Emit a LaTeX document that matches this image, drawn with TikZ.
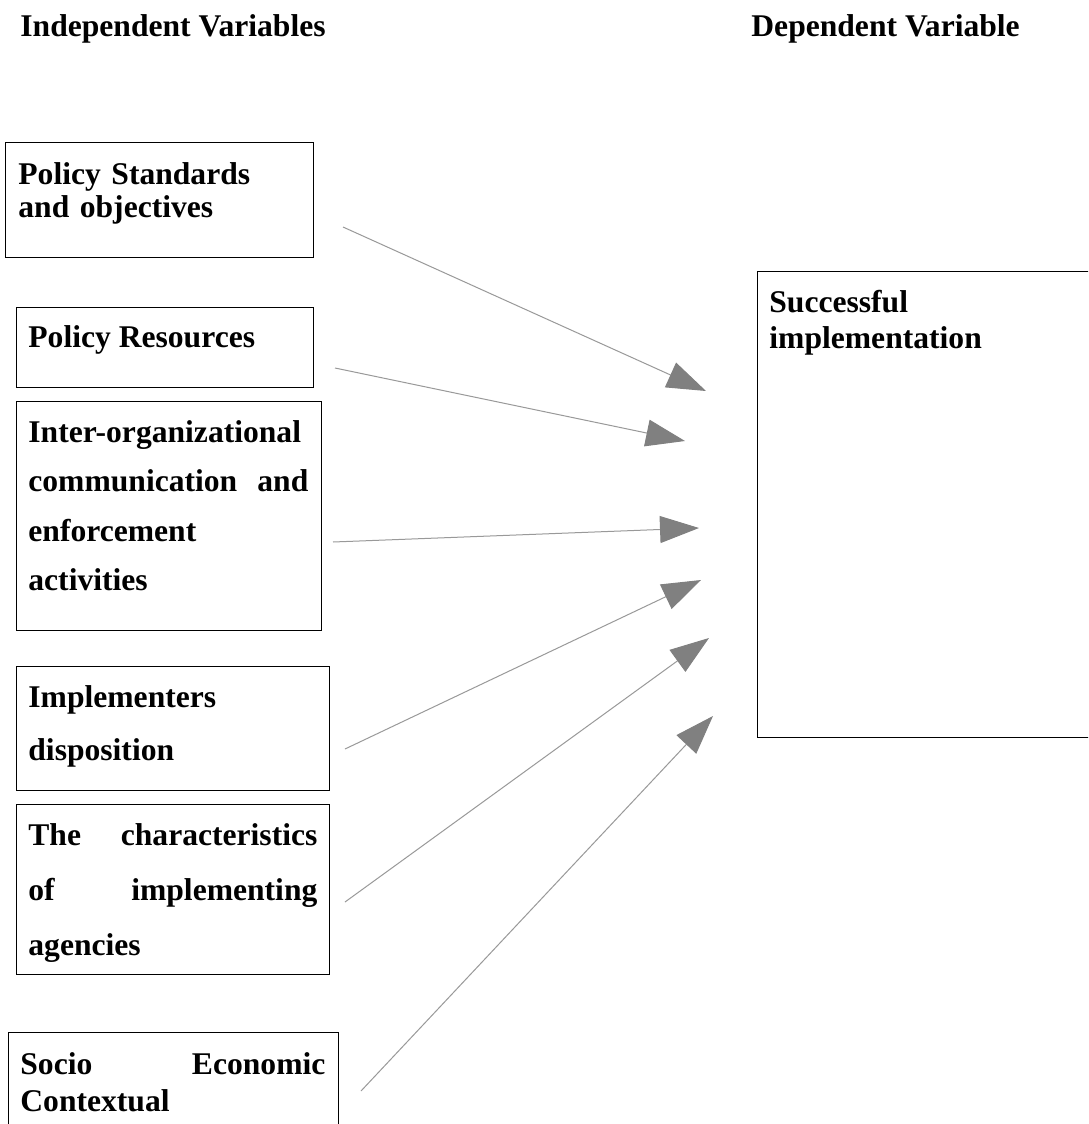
\documentclass[tikz,border=0pt]{standalone}
\usepackage{fontspec}
\setmainfont{Liberation Serif}
\usetikzlibrary{arrows.meta}
\tikzset{box/.style={draw=black, line width=0.7pt, rectangle, inner sep=0pt, anchor=north west}}
\tikzset{lbl/.style={anchor=base west, inner sep=0pt, align=left, font=\fontsize{15.8}{#1}\selectfont\bfseries}, lbl/.default=16.5}
\tikzset{link/.style={draw=gray!80, line width=0.5pt, -{Triangle[length=19.5pt, width=13.5pt, color=gray]}}}

\begin{document}
\begin{tikzpicture}[x=0.5pt, y=-0.5pt]
		\useasboundingbox (0,0) rectangle (1088,1124);
		\fill[white] (0,0) rectangle (1088,1124);
		\clip (0,0) rectangle (1088,1124);
		% headings
		\node[lbl] (indep) at (20,36) {Independent Variables};
		\node[lbl] (dep) at (751,36) {Dependent Variable};
		% independent variables
		\node[box, minimum width=154pt, minimum height=57.5pt] (bStd) at (5,142) {};
		\node[lbl, text width=145pt] (tStd) at (18,184) {Policy Standards\\and objectives};
		\node[box, minimum width=148.5pt, minimum height=40pt] (bRes) at (16,307) {};
		\node[lbl] (tRes) at (28,347) {Policy Resources};
		\node[box, minimum width=152.5pt, minimum height=114.5pt] (bCom) at (16,401) {};
		\node[lbl=24.8, text width=140pt] (tCom) at (28,442) {Inter-organizational\\communication\hfill and\\enforcement\\activities};
		\node[box, minimum width=156.5pt, minimum height=62pt] (bDisp) at (16,666) {};
		\node[lbl=26.5, text width=144pt] (tDisp) at (28,707) {Implementers\\disposition};
		\node[box, minimum width=156.5pt, minimum height=85pt] (bChar) at (16,804) {};
		\node[lbl=27.5, text width=144.5pt] (tChar) at (28,845) {The\hfill characteristics\\of\hfill implementing\\agencies};
		\node[box, minimum width=165pt, minimum height=60pt] (bSoc) at (8,1032) {};
		\node[lbl=18.5, text width=152.5pt] (tSoc) at (20,1074) {Socio\hfill Economic\\Contextual};
		% dependent variable
		\node[box, minimum width=175pt, minimum height=233pt] (bSucc) at (757,271) {};
		\node[lbl=18, text width=150pt] (tSucc) at (769,312) {Successful\\implementation};
		% arrows
		\coordinate (s1) at (343,227); \coordinate (e1) at (706,391);
		\coordinate (s2) at (335,368); \coordinate (e2) at (685,441);
		\coordinate (s3) at (333,542); \coordinate (e3) at (699,528);
		\coordinate (s4) at (345,749); \coordinate (e4) at (701,580);
		\coordinate (s5) at (345,902); \coordinate (e5) at (709,638);
		\coordinate (s6) at (361,1091); \coordinate (e6) at (713,716);
		\foreach \i in {1,...,6} {
			\draw[link] (s\i) -- (e\i);
		}
	\end{tikzpicture}
\end{document}
